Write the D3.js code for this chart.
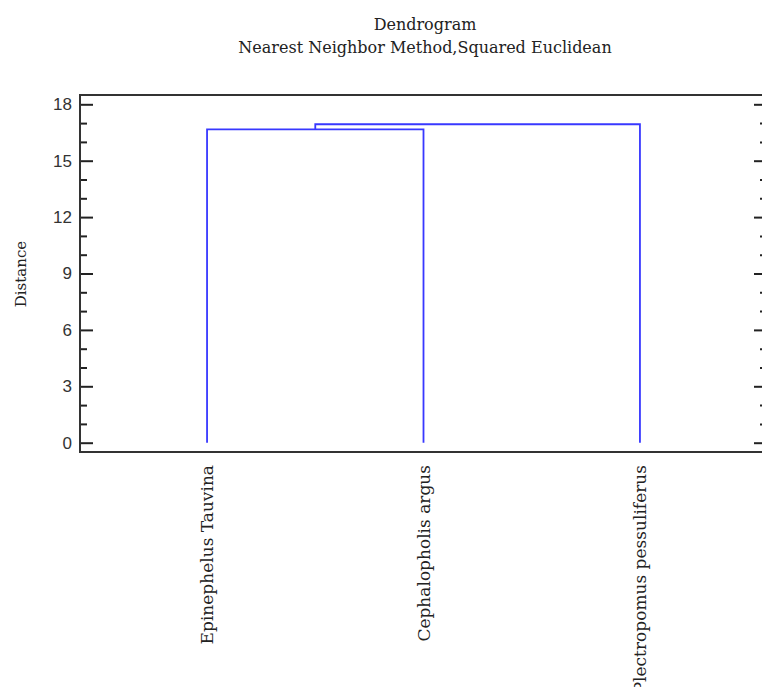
<!DOCTYPE html>
<html>
<head>
<meta charset="utf-8">
<script src="https://cdn.jsdelivr.net/npm/d3@7"></script>
<style>
  body { margin: 0; background: #fff; }
</style>
</head>
<body>
<div id="chart"></div>
<script>
// leaf names, left to right
var leaves = ["Epinephelus Tauvina", "Cephalopholis argus", "Plectropomus pessuliferus"];
// linkage: pairs of cluster ids (0..n-1 are leaves, n.. are earlier merges)
var mergePairs = [[0, 1], [3, 2]];
var mergeHeights = [16.67, 16.94];
var yTicks = [0, 3, 6, 9, 12, 15, 18];
var titles = ["Dendrogram", "Nearest Neighbor Method,Squared Euclidean"];

var width = 762, height = 687;
var box = { left: 80, right: 767, top: 95, bottom: 452 };

var svg = d3.select("#chart").append("svg")
  .attr("width", width)
  .attr("height", height);

var x = d3.scalePoint()
  .domain(d3.range(leaves.length))
  .range([box.left, box.right])
  .padding(0.587);

var y = d3.scaleLinear()
  .domain([0, 18])
  .range([442.7, 104.3]);

// titles
svg.selectAll("text.title")
  .data(titles)
  .enter().append("text")
  .attr("class", "title")
  .attr("x", 425)
  .attr("y", function(d, i) { return 30 + i * 23; })
  .attr("text-anchor", "middle")
  .style("font-family", "DejaVu Serif")
  .style("font-size", "16px")
  .style("fill", "#222")
  .text(function(d) { return d; });

// axes (left and right, major + minor)
var minorTicks = d3.range(0, 19).filter(function(v) { return v % 3; });
var leftMajor = d3.axisLeft(y).tickValues(yTicks).tickSize(-13).tickPadding(8);
var leftMinor = d3.axisLeft(y).tickValues(minorTicks).tickSize(-7).tickFormat("");
var rightMajor = d3.axisRight(y).tickValues(yTicks).tickSize(-13).tickFormat("");
var rightMinor = d3.axisRight(y).tickValues(minorTicks).tickSize(-7).tickFormat("");

function styleAxis(g) {
  g.select(".domain").remove();
  g.selectAll("line").attr("stroke", "#222").attr("stroke-width", 2);
  g.selectAll("text")
    .style("font-family", "Liberation Sans")
    .style("font-size", "17px")
    .style("fill", "#333");
}

svg.append("g").attr("transform", "translate(" + box.left + ",0)").call(leftMajor).call(styleAxis);
svg.append("g").attr("transform", "translate(" + box.left + ",0)").call(leftMinor).call(styleAxis);
svg.append("g").attr("transform", "translate(" + box.right + ",0)").call(rightMajor).call(styleAxis);
svg.append("g").attr("transform", "translate(" + box.right + ",0)").call(rightMinor).call(styleAxis);

// frame
svg.append("rect")
  .attr("x", box.left)
  .attr("y", box.top)
  .attr("width", box.right - box.left)
  .attr("height", box.bottom - box.top)
  .attr("fill", "none")
  .attr("stroke", "#333")
  .attr("stroke-width", 2);

// y axis title
svg.append("text")
  .attr("transform", "translate(26,274) rotate(-90)")
  .attr("text-anchor", "middle")
  .style("font-family", "DejaVu Serif")
  .style("font-size", "15px")
  .style("fill", "#222")
  .text("Distance");

// build cluster positions from the linkage
var nodeX = leaves.map(function(d, i) { return x(i); });
var nodeH = leaves.map(function() { return 0; });
var links = [];
mergePairs.forEach(function(p, i) {
  var a = p[0], b = p[1], h = mergeHeights[i];
  links.push([[nodeX[a], nodeH[a]], [nodeX[a], h], [nodeX[b], h], [nodeX[b], nodeH[b]]]);
  nodeX.push((nodeX[a] + nodeX[b]) / 2);
  nodeH.push(h);
});

var line = d3.line()
  .x(function(d) { return d[0]; })
  .y(function(d) { return y(d[1]); });

svg.selectAll("path.link")
  .data(links)
  .enter().append("path")
  .attr("class", "link")
  .attr("d", line)
  .attr("fill", "none")
  .attr("stroke", "#3838ff")
  .attr("stroke-width", 1.8);

// leaf labels
svg.selectAll("text.leaf")
  .data(leaves)
  .enter().append("text")
  .attr("class", "leaf")
  .attr("transform", function(d, i) { return "translate(" + (x(i) + 6) + ",465) rotate(-90)"; })
  .attr("text-anchor", "end")
  .style("font-family", "DejaVu Serif")
  .style("font-size", "17px")
  .style("fill", "#222")
  .text(function(d) { return d; });
</script>
</body>
</html>
